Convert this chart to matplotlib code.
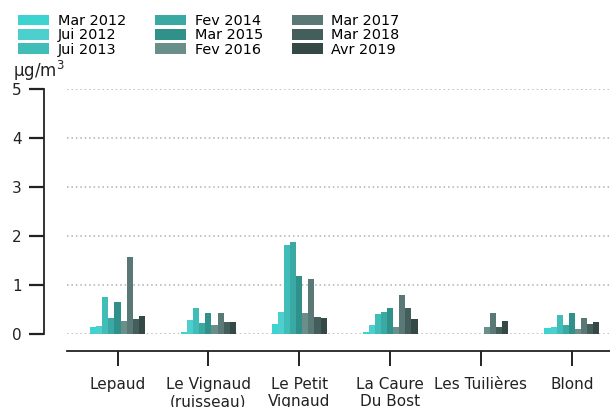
import numpy as np
import matplotlib
matplotlib.use("Agg")
import matplotlib.pyplot as plt

sites = ["Lepaud", "Le Vignaud\n(ruisseau)", "Le Petit\nVignaud",
         "La Caure\nDu Bost", "Les Tuilières", "Blond"]
campaigns = ["Mar 2012", "Jui 2012", "Jui 2013", "Fev 2014", "Mar 2015",
             "Fev 2016", "Mar 2017", "Mar 2018", "Avr 2019"]
colors = ["#3dd3d1", "#4ccfcd", "#40bdb7", "#3aa9a4", "#2f918a",
          "#6a8e8a", "#5a7976", "#445e5b", "#344846"]

# one list per campaign, values per site (µg/m3)
mar_2012 = [0.14, 0.04, 0.19, 0.04, 0.0, 0.11]
jui_2012 = [0.15, 0.28, 0.43, 0.17, 0.0, 0.14]
jui_2013 = [0.75, 0.52, 1.80, 0.39, 0.0, 0.38]
fev_2014 = [0.32, 0.21, 1.88, 0.43, 0.0, 0.17]
mar_2015 = [0.65, 0.41, 1.18, 0.52, 0.0, 0.41]
fev_2016 = [0.26, 0.17, 0.41, 0.14, 0.14, 0.09]
mar_2017 = [1.56, 0.41, 1.12, 0.79, 0.41, 0.32]
mar_2018 = [0.30, 0.23, 0.33, 0.52, 0.14, 0.19]
avr_2019 = [0.36, 0.23, 0.31, 0.30, 0.26, 0.24]
series = [mar_2012, jui_2012, jui_2013, fev_2014, mar_2015,
          fev_2016, mar_2017, mar_2018, avr_2019]

fig = plt.figure(figsize=(6.1, 4.07), dpi=100)
ax = fig.add_axes([67 / 610, 1 - 333.5 / 407, 543 / 610, (333.5 - 89) / 407])

x = np.arange(len(sites))
w = 0.067
handles = []
for j, (vals, c, lab) in enumerate(zip(series, colors, campaigns)):
    b = ax.bar(x + (j - 4) * w, vals, width=w, color=c, label=lab,
               linewidth=0, zorder=3)
    handles.append(b)

ax.set_xlim(-0.556, 5.42)
ax.set_ylim(0, 5)
ax.set_yticks(range(6))
ax.set_xticks(x)
ax.set_xticklabels(sites)

ax.grid(axis="y", linestyle=(0, (1, 1.9)), color="#b0b0b0", linewidth=1.1, zorder=0)
ax.grid(axis="x", visible=False)

for s in ("top", "right"):
    ax.spines[s].set_visible(False)
ax.spines["left"].set_position(("outward", 23 * 0.72))
ax.spines["left"].set_bounds(0, 5)
ax.spines["bottom"].set_position(("outward", 17 * 0.72))
for s in ("left", "bottom"):
    ax.spines[s].set_color("#222222")
    ax.spines[s].set_linewidth(1.3)

ax.tick_params(axis="y", length=11, width=1.6, pad=5, labelsize=11,
               colors="#222222")
ax.tick_params(axis="x", length=11, width=1.4, pad=8, labelsize=11,
               colors="#222222")

fig.text(13 / 610, 1 - 77 / 407, "µg/m$^3$", fontsize=12, color="#222222",
         va="baseline", ha="left")

fig.legend(handles=handles, loc="upper left", ncol=3,
           bbox_to_anchor=(18 / 610, 1 - 14 / 407), frameon=False,
           fontsize=10.4, handlelength=2.15, handleheight=0.75,
           labelspacing=0.02, columnspacing=2.0, handletextpad=0.6,
           borderpad=0, borderaxespad=0)

fig.savefig("out.png", dpi=100)
